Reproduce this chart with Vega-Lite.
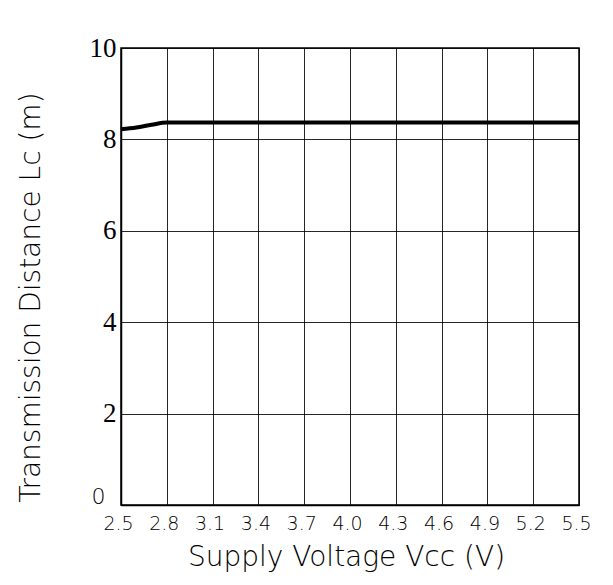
{
  "$schema": "https://vega.github.io/schema/vega-lite/v6.json",
  "autosize": "none",
  "width": 458,
  "height": 457,
  "padding": {"left": 121, "top": 48, "right": 34, "bottom": 80},
  "background": "white",
  "config": {
    "view": {"stroke": "black", "strokeWidth": 1.5}
  },
  "data": {
    "values": [
      {"vcc": 2.5, "lc": 8.22},
      {"vcc": 2.6, "lc": 8.26},
      {"vcc": 2.7, "lc": 8.32},
      {"vcc": 2.8, "lc": 8.37},
      {"vcc": 3.1, "lc": 8.37},
      {"vcc": 3.4, "lc": 8.37},
      {"vcc": 3.7, "lc": 8.37},
      {"vcc": 4.0, "lc": 8.37},
      {"vcc": 4.3, "lc": 8.37},
      {"vcc": 4.6, "lc": 8.37},
      {"vcc": 4.9, "lc": 8.37},
      {"vcc": 5.2, "lc": 8.37},
      {"vcc": 5.5, "lc": 8.37}
    ]
  },
  "mark": {"type": "line", "color": "black", "strokeWidth": 4, "interpolate": "monotone"},
  "encoding": {
    "x": {
      "field": "vcc",
      "type": "quantitative",
      "scale": {"domain": [2.5, 5.5], "nice": false, "zero": false},
      "axis": {
        "values": [2.5, 2.8, 3.1, 3.4, 3.7, 4.0, 4.3, 4.6, 4.9, 5.2, 5.5],
        "format": ".1f",
        "title": "Supply Voltage Vcc (V)",
        "grid": true,
        "gridColor": "black",
        "gridOpacity": 0.85,
        "gridWidth": 1,
        "domainColor": "black",
        "domainWidth": 1.5,
        "ticks": false,
        "labelFont": "DejaVu Sans",
        "labelFontWeight": 200,
        "labelFontSize": 19,
        "labelColor": "black",
        "labelPadding": 9,
        "labelBaseline": "top",
        "labelFlush": false,
        "labelOverlap": false,
        "labelOffset": -3,
        "titleFont": "DejaVu Sans",
        "titleFontWeight": 200,
        "titleFontSize": 28,
        "titleColor": "black",
        "titleBaseline": "middle",
        "titleY": 52,
        "titleX": 225
      }
    },
    "y": {
      "field": "lc",
      "type": "quantitative",
      "scale": {"domain": [0, 10], "nice": false},
      "axis": {
        "values": [0, 2, 4, 6, 8, 10],
        "title": "Transmission Distance Lc (m)",
        "grid": true,
        "gridColor": "black",
        "gridOpacity": 0.85,
        "gridWidth": 1,
        "domainColor": "black",
        "domainWidth": 1.5,
        "ticks": false,
        "labelFont": {"condition": {"test": "datum.value == 0", "value": "DejaVu Sans"}, "value": "Liberation Serif"},
        "labelFontWeight": {"condition": {"test": "datum.value == 0", "value": 200}, "value": "normal"},
        "labelFontSize": {"condition": {"test": "datum.value == 0", "value": 22}, "value": 27},
        "labelOffset": {"condition": {"test": "datum.value == 0", "value": -9}, "value": 0},
        "labelPadding": {"condition": {"test": "datum.value == 0", "value": 16}, "value": 5},
        "labelColor": "black",
        "labelFlush": false,
        "labelOverlap": false,
        "titleFont": "DejaVu Sans",
        "titleFontWeight": 200,
        "titleFontSize": 28,
        "titleColor": "black",
        "titleBaseline": "middle",
        "titleX": -90,
        "titleY": 249
      }
    }
  }
}
